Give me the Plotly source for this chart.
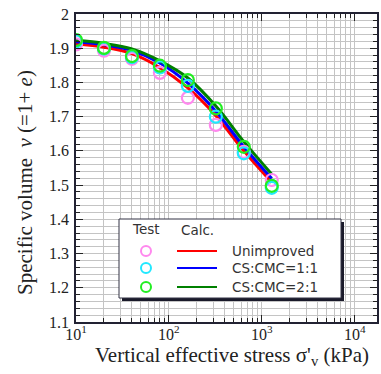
import plotly.graph_objects as go

# ---- data ----
stress = [10, 20, 40, 80, 160, 320, 640, 1280]
test_unimproved = [1.911, 1.893, 1.869, 1.828, 1.755, 1.676, 1.597, 1.515]
test_cs11 = [1.920, 1.899, 1.874, 1.844, 1.790, 1.700, 1.593, 1.492]
test_cs21 = [1.924, 1.901, 1.877, 1.849, 1.807, 1.724, 1.612, 1.498]

calc_unimproved = [1.913, 1.903, 1.884, 1.843, 1.784, 1.703, 1.600, 1.508]
calc_cs11 = [1.919, 1.910, 1.893, 1.857, 1.798, 1.716, 1.612, 1.519]
calc_cs21 = [1.923, 1.914, 1.898, 1.863, 1.813, 1.731, 1.627, 1.532]

series_names = ["Unimproved", "CS:CMC=1:1", "CS:CMC=2:1"]
marker_colors = ["#ff88ee", "#22e8ff", "#22ee22"]
line_colors = ["#ff0000", "#0000ff", "#008000"]

x_major = [10, 100, 1000, 10000]
x_major_text = ["10<sup>1</sup>", "10<sup>2</sup>", "10<sup>3</sup>", "10<sup>4</sup>"]
x_minor = [m * 10 ** d for d in range(1, 5) for m in range(2, 10)]

fig = go.Figure()
tests = [test_unimproved, test_cs11, test_cs21]
calcs = [calc_unimproved, calc_cs11, calc_cs21]
for i in range(3):
    fig.add_trace(go.Scatter(x=stress, y=calcs[i], mode="lines", line=dict(color=line_colors[i], width=3, shape="spline"),
                             showlegend=False))
for i in range(3):
    fig.add_trace(go.Scatter(x=stress, y=tests[i], mode="markers",
                             marker=dict(symbol="circle-open", size=12, color=marker_colors[i], line=dict(width=2.2)),
                             showlegend=False))

L, R, T, B = 76, 4, 14, 52
W, H = 381, 374
pw, ph = W - L - R, H - T - B

def px(x):
    return (x - L) / pw

def py(y):
    return (H - B - y) / ph

shapes = []
# legend shadow + box
shapes.append(dict(type="rect", xref="paper", yref="paper", x0=px(122), x1=px(344), y0=py(301), y1=py(222),
                   fillcolor="#1a1a2a", line=dict(width=0), layer="above"))
shapes.append(dict(type="rect", xref="paper", yref="paper", x0=px(119), x1=px(341), y0=py(298), y1=py(219),
                   fillcolor="white", line=dict(color="#333344", width=1), layer="above"))
lfont = dict(family="DejaVu Sans", size=13.5, color="#333")
annotations = [
    dict(text="Test", x=px(146), y=py(229), xref="paper", yref="paper", showarrow=False,
         font=lfont, xanchor="center", yanchor="middle"),
    dict(text="Calc.", x=px(197), y=py(230), xref="paper", yref="paper", showarrow=False,
         font=lfont, xanchor="center", yanchor="middle"),
    dict(text="Vertical effective stress σ'<sub>v</sub> (kPa)", x=px(232), y=py(356), xref="paper", yref="paper",
         showarrow=False, font=dict(family="Liberation Serif", size=21, color="#222"), xanchor="center", yanchor="middle"),
    dict(text="Specific volume  <i>v</i> (=1+ <i>e</i>)", x=px(25), y=py(183), xref="paper", yref="paper",
         showarrow=False, textangle=-90, font=dict(family="Liberation Serif", size=21, color="#222"),
         xanchor="center", yanchor="middle"),
]
rows = [251, 268, 287]
r = 5
for i, ry in enumerate(rows):
    shapes.append(dict(type="circle", xref="paper", yref="paper", x0=px(146 - r), x1=px(146 + r),
                       y0=py(ry + r), y1=py(ry - r), line=dict(color=marker_colors[i], width=2), layer="above"))
    shapes.append(dict(type="line", xref="paper", yref="paper", x0=px(177), x1=px(217), y0=py(ry), y1=py(ry),
                       line=dict(color=line_colors[i], width=2), layer="above"))
    annotations.append(dict(text=series_names[i], x=px(230), y=py(ry), xref="paper", yref="paper", showarrow=False,
                            font=lfont, xanchor="left", yanchor="middle"))

grid = "#c4c4c4"
fig.update_layout(
    width=W, height=H, margin=dict(l=L, r=R, t=T, b=B),
    plot_bgcolor="white", paper_bgcolor="white",
    font=dict(family="Liberation Serif", size=16, color="#222"),
    shapes=shapes, annotations=annotations,
    xaxis=dict(type="log", range=[1, 4.24], tickvals=x_major, ticktext=x_major_text,
               ticks="inside", ticklen=7, tickwidth=1.2, tickcolor="#222",
               showgrid=True, gridcolor=grid, gridwidth=1,
               minor=dict(tickvals=x_minor, ticks="inside", ticklen=4, tickcolor="#222", showgrid=True, gridcolor=grid),
               showline=True, linecolor="#223", linewidth=1.6, mirror="ticks", zeroline=False,
               automargin=False, tickfont=dict(size=16), ticklabelstandoff=-3),
    yaxis=dict(range=[1.1, 2.0], dtick=0.1, tick0=1.1,
               ticks="inside", ticklen=7, tickwidth=1.2, tickcolor="#222",
               showgrid=True, gridcolor=grid, gridwidth=1,
               minor=dict(dtick=0.02, ticks="inside", ticklen=4, tickcolor="#222", showgrid=True, gridcolor=grid),
               showline=True, linecolor="#223", linewidth=1.6, mirror="ticks", zeroline=False,
               automargin=False, tickfont=dict(size=16), ticklabelstandoff=2),
)

fig.write_html("out.html", config={"displayModeBar": False},
               post_script="document.body.style.margin='0';document.body.style.padding='0';")
